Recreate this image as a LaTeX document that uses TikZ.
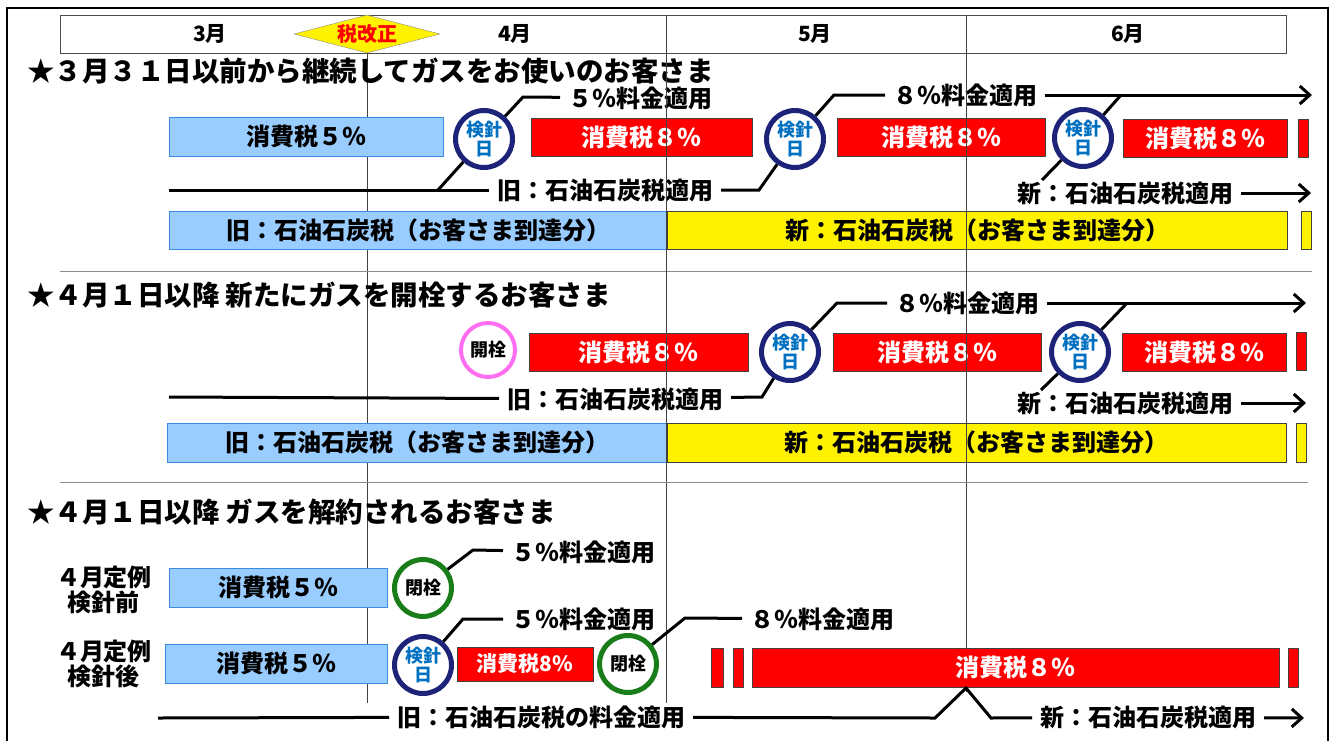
\documentclass[tikz,border=0pt]{standalone}
\usepackage{fontspec}
\setmainfont{Noto Sans CJK JP}
\usetikzlibrary{arrows.meta,shapes.geometric}

\definecolor{lblue}{RGB}{153,204,255}
\definecolor{eblue}{RGB}{60,140,225}
\definecolor{navy}{RGB}{28,35,120}
\definecolor{tblue}{RGB}{0,112,192}
\definecolor{pinkring}{RGB}{255,110,240}
\definecolor{greenring}{RGB}{25,125,25}
\definecolor{taxred}{RGB}{255,0,0}

\newcommand\jsize[1]{\fontsize{#1}{#1}\selectfont}

\tikzset{
  wh/.style 2 args={minimum width=#1pt, minimum height=#2pt},
  bar/.style={draw=black!75, line width=1pt, inner sep=0pt, font=\bfseries\jsize{24}},
  oldbar/.style={bar, fill=lblue, draw=eblue},
  redbar/.style={bar, fill=taxred, text=white},
  newbar/.style={bar, fill=yellow},
  ring/.style={circle, fill=white, line width=5pt, minimum size=57pt, inner sep=0pt,
    font=\bfseries\fontsize{18}{19}\selectfont, align=center},
  kenshin/.style={ring, draw=navy, text=tblue},
  kaisen/.style={ring, draw=pinkring, line width=4pt, minimum size=54pt},
  heisen/.style={ring, draw=greenring},
  lbl/.style={font=\bfseries\jsize{24}, inner sep=0pt, outer sep=8pt},
  rowlbl/.style={font=\bfseries\fontsize{24}{25}\selectfont, inner sep=0pt, align=center},
  ttl/.style={font=\bfseries\jsize{27.5}, anchor=west, inner sep=0pt},
  month/.style={font=\bfseries\jsize{21}},
  leader/.style={line width=3pt},
  arr/.style={leader, -{Straight Barb[length=10pt,width=18pt]}},
  monthline/.style={line width=1pt, black!75},
  sectline/.style={line width=1pt, black!45},
}

\begin{document}
\begin{tikzpicture}[x=1pt, y=-1pt]
\useasboundingbox (0,0) rectangle (1331,740);
\clip (0,0) rectangle (1331,740);
\fill[white] (0,0) rectangle (1331,740);
\draw[line width=2pt] (7,760) -- (7,8) -- (1328,8) -- (1328,760);

% month header
\draw[line width=1pt, black!70] (60,15) rectangle (1286,53);
\draw[monthline] (666,15) -- (666,53) (966,15) -- (966,53);
\node[month] (m3) at (210,34) {3月};
\node[month] (m4) at (515,34) {4月};
\node[month] (m5) at (815,34) {5月};
\node[month] (m6) at (1128,34) {6月};
\node[diamond, draw=black!45, fill=yellow, wh={146}{38}, inner sep=0pt, aspect=3.8,
  text=taxred, font=\bfseries\jsize{20}] (kaisei) at (367,34) {税改正};

% month lines (behind)
\draw[monthline] (kaisei.south) -- (367,703);
\draw[monthline] (666,53) -- (666,703);
\draw[monthline] (966,53) -- (966,692);

\draw[sectline] (60,271) -- (1312,271);
\draw[sectline] (60,482) -- (1308,482);

% section 1
\node[ttl] (s1title) at (27,71) {★３月３１日以前から継続してガスをお使いのお客さま};
\node[oldbar, wh={274}{39}] (s1c5) at (306,136.5) {消費税５％};
\node[kenshin] (s1k1) at (484,139) {検針\\日};
\node[redbar, wh={221}{38}] (s1r1) at (641.5,137) {消費税８％};
\node[kenshin] (s1k2) at (795,139) {検針\\日};
\node[redbar, wh={208}{38}] (s1r2) at (941,137) {消費税８％};
\node[kenshin] (s1k3) at (1083,138) {検針\\日};
\node[redbar, wh={164}{38}] (s1r3) at (1205,138.5) {消費税８％};
\node[redbar, wh={10}{38}] (s1r4) at (1303,138.5) {};
\node[lbl] (s1p5) at (640,98) {５％料金適用};
\node[lbl] (s1p8) at (965,95) {８％料金適用};
\node[lbl] (s1old) at (605,190) {旧：石油石炭税適用};
\node[lbl] (s1new) at (1125,193) {新：石油石炭税適用};
\node[oldbar, wh={498}{38}] (s1oldtax) at (418,230) {旧：石油石炭税（お客さま到達分）};
\node[newbar, wh={620}{38}] (s1newtax) at (977,230) {新：石油石炭税（お客さま到達分）};
\node[newbar, wh={10}{38}] (s1newend) at (1306,230) {};

\coordinate (s1a) at (169,190);
\coordinate (s1b) at (438,190);
\coordinate (s1c) at (523,97);
\coordinate (s1e) at (759,190);
\coordinate (s1f) at (834,95);
\coordinate (s1g) at (1312,95);
\coordinate (s1h) at (1121,95);
\coordinate (s1i) at (1042,180);
\coordinate (s1j) at (1311,193);
\draw[leader] (s1a) -- (s1old);
\draw[leader] (s1b) -- (s1k1);
\draw[leader] (s1k1) -- (s1c) -- (s1p5);
\draw[leader] (s1old) -- (s1e) -- (s1k2);
\draw[leader] (s1k2) -- (s1f) -- (s1p8);
\draw[arr] (s1p8) -- (s1g);
\draw[leader] (s1h) -- (s1k3);
\draw[leader] (s1k3) -- (s1i);
\draw[arr] (s1new) -- (s1j);

% section 2
\node[ttl] (s2title) at (27,295) {★４月１日以降 新たにガスを開栓するお客さま};
\node[kaisen] (s2open) at (488,350) {開栓};
\node[redbar, wh={219}{38}] (s2r1) at (638.5,352.5) {消費税８％};
\node[kenshin] (s2k2) at (790,352) {検針\\日};
\node[redbar, wh={208}{38}] (s2r2) at (937,352.5) {消費税８％};
\node[kenshin] (s2k3) at (1080,352) {検針\\日};
\node[redbar, wh={164}{38}] (s2r3) at (1204,352.5) {消費税８％};
\node[redbar, wh={10}{38}] (s2r4) at (1301,351) {};
\node[lbl] (s2p8) at (967,303) {８％料金適用};
\node[lbl] (s2old) at (615,399) {旧：石油石炭税適用};
\node[lbl] (s2new) at (1125,403) {新：石油石炭税適用};
\node[oldbar, wh={500}{39}] (s2oldtax) at (417,442.5) {旧：石油石炭税（お客さま到達分）};
\node[newbar, wh={619}{39}] (s2newtax) at (976.5,442.5) {新：石油石炭税（お客さま到達分）};
\node[newbar, wh={10}{39}] (s2newend) at (1301,442.5) {};

\coordinate (s2a) at (169,397);
\coordinate (s2e) at (762,397);
\coordinate (s2f) at (837,303);
\coordinate (s2g) at (1306,303);
\coordinate (s2h) at (1127,303);
\coordinate (s2i) at (1041,390);
\coordinate (s2j) at (1306,403);
\draw[leader] (s2a) -- (s2old);
\draw[leader] (s2old) -- (s2e) -- (s2k2);
\draw[leader] (s2k2) -- (s2f) -- (s2p8);
\draw[arr] (s2p8) -- (s2g);
\draw[leader] (s2h) -- (s2k3);
\draw[leader] (s2k3) -- (s2i);
\draw[arr] (s2new) -- (s2j);

% section 3
\node[ttl] (s3title) at (27,512) {★４月１日以降 ガスを解約されるお客さま};
\node[rowlbl] (s3before) at (104,590) {４月定例\\検針前};
\node[oldbar, wh={218}{39}] (s3c5a) at (278,587.5) {消費税５％};
\node[heisen] (s3close1) at (423,588) {閉栓};
\node[lbl] (s3p5a) at (583,552) {５％料金適用};
\node[rowlbl] (s3after) at (104,664) {４月定例\\検針後};
\node[oldbar, wh={222}{39}] (s3c5b) at (276,663.5) {消費税５％};
\node[kenshin] (s3k) at (423,665) {検針\\日};
\node[redbar, wh={136}{34}, font=\bfseries\jsize{21}] (s3r8) at (525,664) {消費税8\%};
\node[heisen] (s3close2) at (628,664) {閉栓};
\node[lbl] (s3p5b) at (583,619) {５％料金適用};
\node[lbl] (s3p8) at (822,619) {８％料金適用};
\node[redbar, wh={12}{39}] (s3r1) at (717,667.5) {};
\node[redbar, wh={10}{39}] (s3r2) at (738,667.5) {};
\node[redbar, wh={527}{39}] (s3r3) at (1015.5,667.5) {消費税８％};
\node[redbar, wh={10}{39}] (s3r4) at (1293,667.5) {};
\node[lbl] (s3old) at (541,717) {旧：石油石炭税の料金適用};
\node[lbl] (s3new) at (1148,717) {新：石油石炭税適用};

\coordinate (s3a) at (473,550);
\coordinate (s3b) at (463,619);
\coordinate (s3c) at (685,618);
\coordinate (s3d) at (158,718);
\coordinate (s3e) at (935,718);
\coordinate (s3peak) at (966,688);
\coordinate (s3f) at (991,718);
\coordinate (s3g) at (1304,718);
\draw[leader] (s3close1) -- (s3a) -- (s3p5a);
\draw[leader] (s3k) -- (s3b) -- (s3p5b);
\draw[leader] (s3close2) -- (s3c) -- (s3p8);
\draw[leader] (s3d) -- (s3old);
\draw[leader] (s3old) -- (s3e) -- (s3peak) -- (s3f) -- (s3new);
\draw[arr] (s3new) -- (s3g);

% month lines over the upper bars
\draw[monthline] (666,53) -- (666,470) (966,53) -- (966,470);
\end{tikzpicture}
\end{document}
